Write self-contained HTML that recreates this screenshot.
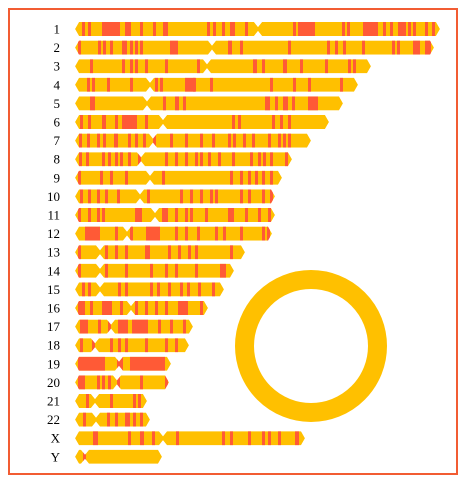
<!DOCTYPE html>
<html><head><meta charset="utf-8"><style>
html,body{margin:0;padding:0;background:#fff;width:469px;height:484px;overflow:hidden}
svg{display:block}
</style></head><body>
<svg id="chart" width="469" height="484" viewBox="0 0 469 484" xmlns="http://www.w3.org/2000/svg">
<rect x="9" y="9" width="448" height="465" fill="none" stroke="#F25C33" stroke-width="2"/>
<circle cx="311" cy="346" r="66.5" fill="none" stroke="#FFC000" stroke-width="19"/>
<g id="chroms"></g>
</svg>
<script>
const names = ["1","2","3","4","5","6","7","8","9","10","11","12","13","14","15","16","17","18","19","20","21","22","X","Y"];
const lengths = [365,359,296,283,268,254,236,217,207,200,200,197,170,159,149,133,118,114,96,94,72,75,230,87];
const centromeres = [183,137,132,75,72,88,78,66,75,65,80,52,25,25,25,56,36,20,44,42,20,21,88,10];
const bands = [
 [[7,3],[13,3],[27,18],[50,3],[53,3],[65,3],[78,3],[88,5],[132,3],[138,3],[147,3],[155,5],[170,3],[218,3],[223,17],[267,3],[272,3],[288,15],[308,3],[315,3],[323,8],[333,3],[338,3],[350,3],[357,3]],
 [[3,3],[23,3],[28,3],[35,3],[47,5],[55,3],[60,3],[65,3],[95,8],[153,4],[165,3],[213,3],[252,3],[260,3],[268,3],[287,3],[317,3],[322,3],[338,7],[350,3],[353,3]],
 [[15,3],[47,3],[55,3],[60,3],[70,3],[90,3],[122,3],[178,4],[187,3],[208,4],[225,3],[250,3],[273,3],[278,3]],
 [[12,3],[17,3],[32,3],[55,3],[80,3],[85,3],[110,10],[118,3],[135,3],[195,3],[218,3],[233,3],[265,3]],
 [[15,5],[88,3],[100,4],[108,3],[190,5],[200,3],[208,5],[217,3],[233,7],[240,3]],
 [[5,3],[13,3],[27,4],[40,3],[47,15],[70,3],[157,3],[163,3],[197,3],[205,3],[213,3]],
 [[4,3],[12,3],[22,3],[28,3],[39,4],[53,3],[60,3],[68,3],[78,3],[95,3],[110,3],[125,3],[137,3],[153,3],[158,3],[168,3],[177,3],[193,3],[203,3],[208,3],[213,3]],
 [[4,3],[11,3],[27,3],[33,3],[40,3],[45,3],[53,3],[63,3],[90,3],[100,3],[110,3],[120,3],[125,3],[133,3],[143,3],[157,3],[175,3],[183,3],[188,3],[195,3],[210,3]],
 [[3,3],[25,3],[35,3],[50,3],[87,3],[155,3],[165,3],[173,3],[180,3],[187,3],[195,3]],
 [[5,3],[13,3],[22,3],[30,3],[42,3],[72,3],[105,3],[115,3],[125,3],[135,3],[140,3],[165,3],[173,3],[187,3],[195,3]],
 [[3,3],[13,3],[22,3],[27,3],[60,7],[87,6],[100,3],[110,3],[115,3],[130,3],[153,6],[170,3],[183,3],[193,3]],
 [[10,15],[40,3],[55,3],[71,14],[100,3],[110,3],[122,3],[140,3],[148,3],[165,3],[187,3],[192,3]],
 [[3,3],[30,3],[40,3],[50,3],[70,5],[93,3],[103,3],[113,3],[120,3],[155,3]],
 [[3,3],[30,3],[50,3],[75,3],[90,3],[100,3],[120,3],[145,6]],
 [[7,3],[13,3],[43,3],[50,3],[75,3],[82,3],[93,3],[105,3],[112,3],[123,3],[137,3]],
 [[3,7],[15,3],[27,10],[45,3],[60,3],[70,3],[80,3],[90,3],[103,10],[125,3]],
 [[5,8],[23,3],[33,3],[43,10],[57,16],[83,3],[95,3],[108,3]],
 [[5,3],[17,3],[35,3],[43,3],[50,3],[70,3],[90,3],[100,3]],
 [[3,27],[42,6],[55,35]],
 [[3,7],[22,3],[27,3],[33,3],[42,3],[65,3],[90,3]],
 [[11,3],[35,3],[58,3],[63,3]],
 [[8,3],[32,3],[40,3],[50,5],[58,3],[65,3]],
 [[18,5],[53,3],[65,4],[77,3],[101,3],[147,3],[155,3],[173,3],[187,3],[193,3],[203,3],[220,4]],
 [[8,3]]
];
const X0 = 75, Y0 = 29, ROW = 18.6, H = 14, BAND = "#FF5A36", BODY = "#FFC000";
const NS = "http://www.w3.org/2000/svg";
const g = document.getElementById("chroms");
const xScale = v => X0 + v;
const yScale = i => Y0 + i * ROW;
function chromPath(len, cen, yc) {
  const x0 = xScale(0), x1 = xScale(len), xc = xScale(cen), t = yc - H/2, b = yc + H/2, e = 4, p = 4;
  return `M${x0},${yc} L${x0+e},${t} L${xc-p},${t} L${xc},${yc-2} L${xc+p},${t} L${x1-e},${t} L${x1},${yc} L${x1-e},${b} L${xc+p},${b} L${xc},${yc+2} L${xc-p},${b} L${x0+e},${b} Z`;
}
names.forEach((n, i) => {
  const yc = yScale(i);
  const lab = document.createElementNS(NS, "text");
  
  
  lab.setAttribute("x", 60); lab.setAttribute("y", yc + 4.5);
  lab.setAttribute("text-anchor", "end");
  lab.setAttribute("font-family", "Liberation Serif, serif");
  lab.setAttribute("font-size", "13");
  lab.textContent = n;
  g.appendChild(lab);
  const cp = document.createElementNS(NS, "clipPath");
  cp.setAttribute("id", "cp" + i);
  const cpp = document.createElementNS(NS, "path");
  cpp.setAttribute("d", chromPath(lengths[i], centromeres[i], yc));
  cp.appendChild(cpp); g.appendChild(cp);
  const grp = document.createElementNS(NS, "g");
  
  
  grp.setAttribute("clip-path", `url(#cp${i})`);
  const body = document.createElementNS(NS, "path");
  
  
  body.setAttribute("d", chromPath(lengths[i], centromeres[i], yc));
  body.setAttribute("fill", BODY);
  grp.appendChild(body);
  bands[i].forEach(bd => {
    const r = document.createElementNS(NS, "rect");
    
    
    r.setAttribute("x", xScale(bd[0])); r.setAttribute("y", yc - H/2);
    r.setAttribute("width", bd[1]); r.setAttribute("height", H);
    r.setAttribute("fill", BAND);
    grp.appendChild(r);
  });
  g.appendChild(grp);
});
</script>
</body></html>
